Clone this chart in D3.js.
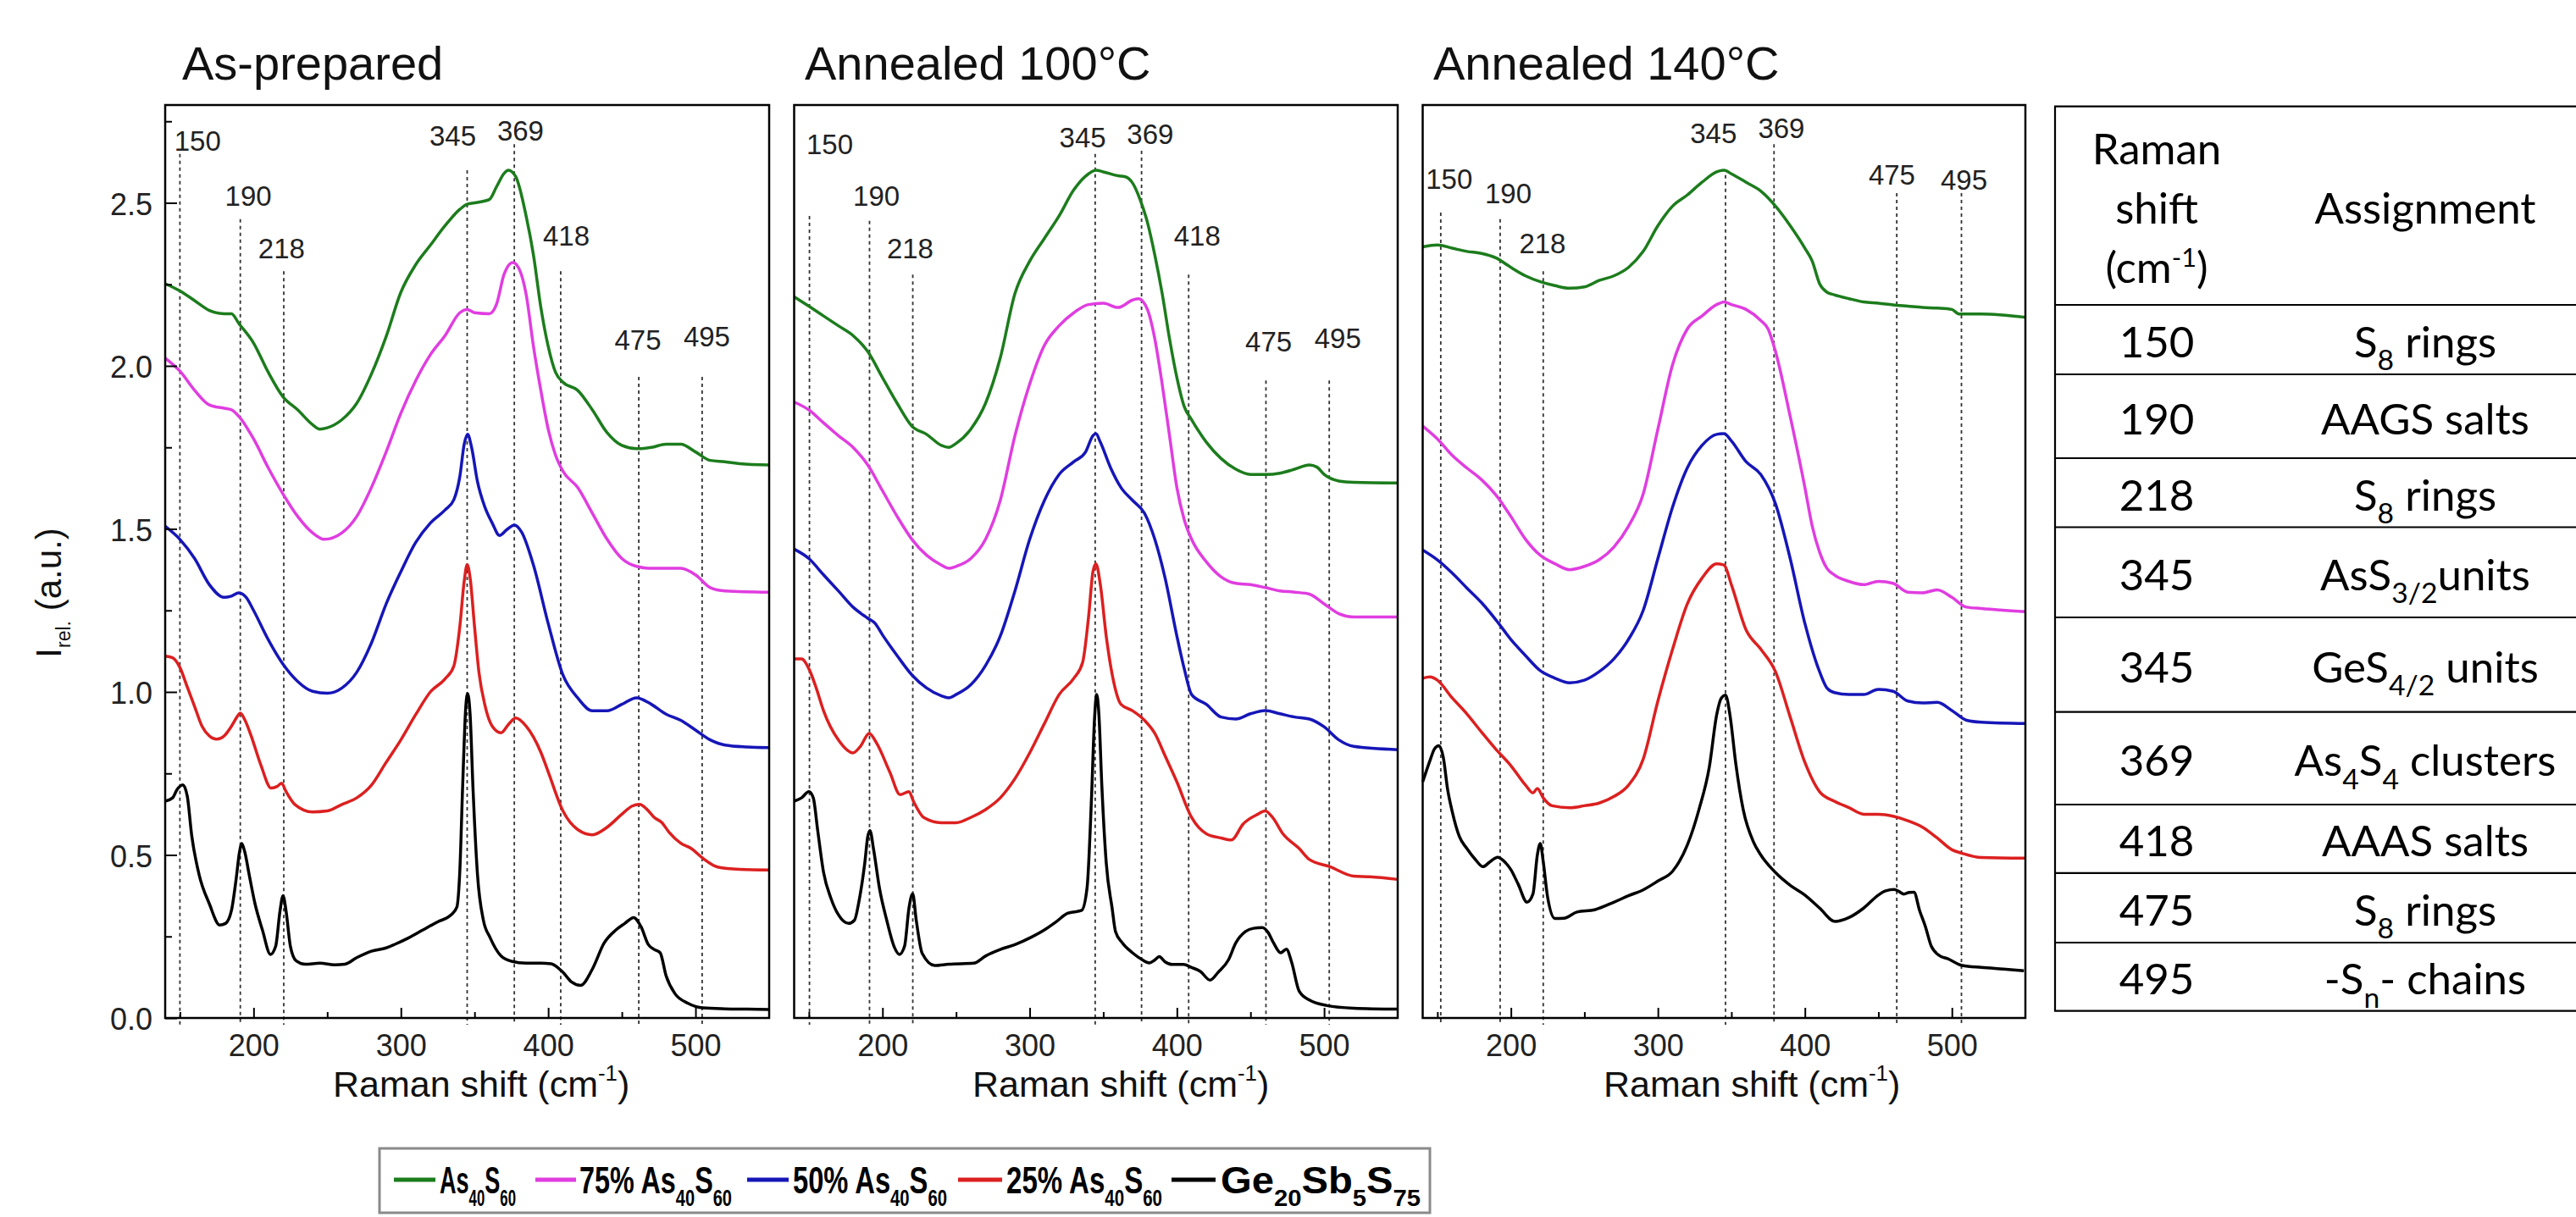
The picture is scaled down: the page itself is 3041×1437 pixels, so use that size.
<!DOCTYPE html>
<html>
<head>
<meta charset="utf-8">
<script src="https://cdn.jsdelivr.net/npm/d3@7"></script>
<style>
  body { margin: 0; background: #fff; }
  svg text { font-family: "Liberation Sans", Arial, sans-serif; }
</style>
</head>
<body>
<div id="chart"></div>
<script>
// Data sumbu
const xMajorTicks = [200, 300, 400, 500];
const xMinorTicks = [150, 250, 350, 450];
const yMajorTicks = [0.0, 0.5, 1.0, 1.5, 2.0, 2.5];
const yMinorTicks = [0.25, 0.75, 1.25, 1.75, 2.25, 2.75];

const panelTitles = ["As-prepared", "Annealed 100°C", "Annealed 140°C"];
const seriesNames = ["As_{40}S_{60}", "75% As_{40}S_{60}", "50% As_{40}S_{60}", "25% As_{40}S_{60}", "Ge_{20}Sb_{5}S_{75}"];
const seriesColors = ["#1c7c1c", "#e03de0", "#1616b8", "#dc2020", "#000000"];

// Garis puncak (posisi pada sumbu x)
const peakLabels = ["150", "190", "218", "345", "369", "418", "475", "495"];
const peakLinesP1 = [150, 191, 220.5, 345, 377, 408.5, 461.5, 504.5];
const peakLinesP2 = [150.4, 191.2, 220.6, 344.5, 376, 408, 460.5, 503.5];
const peakLinesP3 = [152.3, 192.7, 222, 346, 379, null, 462.5, 506.5];

// Panel 1: As-prepared
const p1Green = [[140,2.252],[150,2.23],[160,2.2],[170,2.17],[180,2.16],[185,2.16],[190,2.13],[200,2.07],[210,1.98],[220,1.905],[230,1.865],[240,1.82],[245,1.806],[250,1.81],[260,1.835],[270,1.885],[280,1.975],[290,2.09],[300,2.226],[310,2.31],[320,2.37],[330,2.43],[340,2.48],[345,2.496],[350,2.5],[360,2.51],[365,2.55],[370,2.59],[373,2.6],[378,2.58],[385,2.46],[390,2.34],[395,2.18],[400,2.06],[405,1.98],[410,1.95],[420,1.925],[430,1.865],[440,1.795],[450,1.756],[460,1.746],[470,1.75],[480,1.76],[490,1.76],[500,1.736],[510,1.71],[520,1.706],[530,1.7],[550,1.696]];
const p1Magenta = [[140,2.024],[150,1.984],[160,1.925],[170,1.88],[180,1.87],[185,1.865],[190,1.845],[200,1.776],[210,1.687],[220,1.607],[230,1.538],[240,1.488],[248,1.468],[260,1.488],[270,1.538],[280,1.627],[290,1.736],[300,1.855],[310,1.954],[320,2.034],[330,2.093],[340,2.163],[345,2.173],[350,2.163],[360,2.16],[365,2.19],[370,2.28],[376,2.317],[380,2.3],[385,2.22],[390,2.06],[395,1.925],[400,1.806],[405,1.726],[410,1.677],[420,1.627],[430,1.548],[440,1.468],[450,1.409],[460,1.385],[470,1.379],[480,1.379],[490,1.379],[500,1.359],[510,1.32],[520,1.31],[550,1.306]];
const p1Blue = [[140,1.508],[150,1.468],[160,1.409],[170,1.329],[180,1.29],[185,1.294],[190,1.304],[195,1.29],[200,1.25],[210,1.16],[220,1.085],[230,1.032],[240,1.002],[250,0.996],[260,1.012],[270,1.06],[280,1.15],[290,1.27],[300,1.369],[310,1.458],[320,1.518],[330,1.558],[336,1.59],[340,1.66],[343,1.76],[345.3,1.79],[348,1.75],[352,1.645],[357,1.567],[362,1.518],[367,1.48],[372,1.498],[377,1.512],[382,1.49],[390,1.389],[400,1.21],[410,1.052],[420,0.982],[430,0.942],[440,0.942],[450,0.962],[460,0.982],[470,0.962],[480,0.932],[490,0.913],[500,0.883],[510,0.853],[520,0.837],[535,0.831],[550,0.829]];
const p1Red = [[140,1.11],[145,1.105],[150,1.075],[155,1.015],[160,0.955],[165,0.895],[170,0.865],[175,0.855],[180,0.865],[185,0.895],[189,0.925],[191,0.935],[194,0.915],[198,0.87],[205,0.775],[212,0.705],[216,0.71],[219,0.72],[222,0.695],[228,0.655],[240,0.632],[250,0.635],[260,0.655],[270,0.675],[280,0.714],[290,0.784],[300,0.853],[310,0.93],[320,1.0],[330,1.04],[336,1.08],[340,1.2],[343,1.34],[345,1.39],[347,1.35],[350,1.2],[353,1.06],[357,0.96],[362,0.895],[368,0.875],[373,0.9],[378,0.92],[385,0.895],[395,0.815],[400,0.755],[410,0.635],[420,0.578],[430,0.562],[440,0.585],[450,0.625],[457,0.65],[462,0.655],[467,0.64],[472,0.615],[477,0.6],[482,0.57],[490,0.536],[497,0.52],[505,0.49],[515,0.463],[530,0.456],[550,0.454]];
const p1Black = [[140,0.665],[145,0.675],[148,0.7],[152,0.715],[155,0.68],[158,0.56],[163,0.44],[170,0.35],[177,0.285],[181,0.29],[185,0.33],[188,0.42],[190.5,0.51],[192,0.535],[194,0.51],[197,0.44],[201,0.35],[206,0.27],[211.5,0.195],[215,0.22],[218,0.33],[220,0.375],[222,0.33],[225,0.22],[229,0.175],[235,0.165],[245,0.168],[255,0.163],[262,0.165],[270,0.185],[280,0.205],[290,0.215],[296,0.226],[305,0.245],[315,0.27],[325,0.295],[334,0.316],[338,0.34],[340,0.45],[342,0.72],[344,0.95],[345.3,0.995],[347,0.93],[349,0.7],[352,0.44],[356,0.3],[360.5,0.247],[368,0.19],[375,0.174],[385,0.168],[395,0.168],[402,0.166],[410,0.14],[416,0.11],[422,0.1],[430,0.15],[438,0.23],[446,0.27],[452,0.29],[458,0.308],[463,0.28],[468,0.225],[472,0.21],[476,0.2],[480,0.13],[486,0.075],[495,0.045],[505,0.031],[520,0.028],[535,0.027],[550,0.026]];

// Panel 2: Annealed 100°C
const p2Green = [[140,2.212],[150,2.183],[160,2.153],[170,2.123],[180,2.093],[190,2.044],[200,1.964],[210,1.885],[220,1.815],[230,1.79],[240,1.756],[245,1.75],[250,1.762],[260,1.806],[270,1.885],[280,2.024],[290,2.222],[300,2.321],[310,2.391],[320,2.46],[330,2.54],[340,2.589],[345,2.6],[350,2.595],[360,2.583],[365,2.58],[370,2.56],[375,2.51],[380,2.44],[385,2.34],[390,2.222],[395,2.083],[400,1.964],[405,1.875],[410,1.835],[420,1.766],[430,1.716],[440,1.683],[450,1.667],[460,1.667],[470,1.671],[480,1.683],[490,1.696],[495,1.69],[500,1.667],[510,1.647],[520,1.643],[550,1.641]];
const p2Magenta = [[140,1.889],[150,1.865],[160,1.825],[170,1.786],[180,1.75],[190,1.696],[200,1.617],[210,1.538],[220,1.468],[230,1.419],[240,1.389],[245,1.379],[250,1.385],[260,1.409],[270,1.468],[280,1.587],[290,1.786],[300,1.944],[310,2.063],[320,2.123],[330,2.163],[340,2.188],[350,2.192],[360,2.179],[370,2.202],[374,2.206],[380,2.173],[385,2.083],[390,1.944],[395,1.786],[400,1.627],[405,1.528],[410,1.468],[420,1.399],[430,1.353],[440,1.333],[450,1.329],[460,1.32],[470,1.31],[480,1.306],[490,1.3],[500,1.27],[510,1.24],[520,1.23],[550,1.23]];
const p2Blue = [[140,1.438],[150,1.409],[160,1.359],[170,1.31],[180,1.26],[190,1.226],[195,1.21],[200,1.175],[210,1.111],[220,1.052],[230,1.012],[240,0.988],[245,0.982],[250,0.992],[260,1.022],[270,1.081],[280,1.171],[290,1.31],[300,1.468],[310,1.587],[320,1.667],[330,1.706],[338,1.736],[343,1.786],[345,1.792],[348,1.766],[355,1.687],[362,1.627],[370,1.587],[378,1.548],[385,1.468],[392,1.349],[400,1.171],[405,1.071],[410,0.992],[420,0.962],[430,0.923],[440,0.917],[450,0.933],[460,0.943],[470,0.933],[480,0.923],[490,0.917],[500,0.893],[510,0.853],[520,0.833],[550,0.823]];
const p2Red = [[140,1.101],[145,1.101],[150,1.071],[155,1.012],[160,0.942],[170,0.853],[180,0.813],[185,0.833],[191,0.873],[196,0.843],[205,0.754],[212,0.685],[218,0.694],[221,0.665],[228,0.615],[240,0.599],[250,0.599],[260,0.615],[270,0.639],[280,0.675],[290,0.734],[300,0.813],[310,0.903],[320,0.992],[330,1.042],[336,1.091],[340,1.23],[343,1.369],[345,1.393],[348,1.329],[352,1.171],[357,1.032],[362,0.962],[370,0.942],[378,0.913],[385,0.873],[392,0.804],[400,0.724],[410,0.615],[420,0.565],[430,0.552],[437,0.546],[445,0.595],[455,0.625],[460,0.635],[465,0.615],[472,0.565],[483,0.52],[490,0.486],[504,0.464],[520,0.435],[531,0.433],[550,0.425]];
const p2Black = [[140,0.665],[145,0.675],[150,0.694],[153,0.675],[156,0.575],[160,0.446],[165,0.367],[170,0.317],[177,0.29],[181,0.3],[184,0.357],[188,0.476],[190,0.556],[191.5,0.575],[194,0.516],[198,0.397],[203,0.298],[208,0.218],[211.5,0.195],[215,0.22],[218,0.337],[220.5,0.381],[223,0.298],[227,0.198],[235.5,0.161],[245,0.165],[262,0.168],[270,0.19],[280,0.21],[290,0.225],[300.8,0.247],[310,0.27],[318,0.295],[325.7,0.321],[335.3,0.33],[339,0.4],[342,0.675],[344,0.913],[345.5,0.992],[347,0.933],[349,0.714],[352,0.476],[356,0.337],[358.3,0.265],[363,0.23],[369.8,0.2],[376,0.18],[381.3,0.169],[385,0.178],[388,0.188],[392,0.172],[396.7,0.164],[404.4,0.164],[410,0.155],[415.9,0.143],[422.6,0.116],[428,0.14],[435,0.178],[440,0.23],[446.6,0.265],[452,0.275],[458,0.277],[462,0.262],[465.7,0.23],[470.5,0.2],[474.4,0.211],[478,0.17],[483,0.083],[490,0.055],[502,0.038],[520,0.03],[550,0.027]];

// Panel 3: Annealed 140°C
const p3Green = [[140,2.365],[150,2.371],[160,2.361],[170,2.351],[180,2.345],[190,2.331],[200,2.302],[210,2.276],[220,2.258],[230,2.246],[240,2.238],[250,2.242],[260,2.262],[270,2.276],[280,2.302],[290,2.351],[300,2.43],[310,2.49],[320,2.524],[330,2.563],[340,2.595],[345,2.6],[350,2.589],[360,2.563],[370,2.536],[380,2.49],[390,2.43],[400,2.361],[405,2.321],[410,2.252],[415,2.226],[420,2.218],[430,2.206],[440,2.196],[450,2.192],[460,2.187],[470,2.183],[480,2.179],[490,2.177],[500,2.173],[505,2.159],[510,2.159],[520,2.159],[550,2.149]];
const p3Magenta = [[140,1.815],[150,1.776],[160,1.726],[170,1.687],[180,1.651],[190,1.603],[200,1.538],[210,1.468],[220,1.419],[230,1.393],[240,1.375],[250,1.385],[260,1.405],[270,1.444],[280,1.508],[290,1.607],[300,1.806],[310,2.004],[320,2.113],[330,2.153],[340,2.188],[345,2.196],[350,2.188],[360,2.173],[370,2.139],[375,2.113],[380,2.044],[390,1.845],[400,1.627],[405,1.508],[410,1.429],[415,1.379],[420,1.359],[430,1.339],[440,1.329],[450,1.339],[460,1.333],[470,1.306],[480,1.304],[490,1.313],[500,1.29],[510,1.26],[520,1.256],[550,1.246]];
const p3Blue = [[140,1.435],[150,1.405],[160,1.365],[170,1.319],[180,1.274],[190,1.22],[200,1.161],[210,1.111],[220,1.065],[230,1.042],[240,1.028],[250,1.036],[260,1.062],[270,1.101],[280,1.161],[290,1.25],[300,1.409],[310,1.567],[320,1.687],[330,1.756],[340,1.79],[345,1.792],[350,1.77],[360,1.706],[370,1.667],[380,1.577],[390,1.409],[400,1.21],[410,1.062],[415,1.012],[420,0.998],[430,0.992],[440,0.992],[450,1.008],[460,1.002],[470,0.972],[480,0.966],[490,0.968],[500,0.943],[510,0.913],[520,0.907],[550,0.903]];
const p3Red = [[140,1.042],[145,1.046],[150,1.036],[160,0.982],[170,0.933],[180,0.877],[190,0.823],[200,0.774],[210,0.714],[215,0.69],[218,0.704],[222,0.675],[228,0.651],[240,0.645],[250,0.651],[260,0.659],[270,0.679],[280,0.714],[290,0.794],[300,0.972],[310,1.131],[320,1.27],[330,1.349],[340,1.393],[345,1.389],[350,1.329],[360,1.19],[370,1.131],[380,1.062],[390,0.923],[400,0.784],[410,0.694],[420,0.665],[430,0.645],[440,0.625],[450,0.625],[460,0.619],[470,0.605],[480,0.585],[490,0.552],[500,0.516],[507,0.505],[520,0.492],[550,0.49]];
const p3Black = [[140,0.724],[145,0.79],[148,0.825],[151,0.835],[154,0.8],[157,0.7],[160,0.635],[165,0.556],[170,0.52],[176,0.485],[181,0.464],[186,0.48],[191,0.493],[195,0.482],[200,0.455],[205,0.41],[211,0.355],[215,0.38],[218,0.5],[220,0.535],[222,0.48],[225,0.37],[230,0.305],[236,0.306],[245,0.325],[257,0.332],[270,0.355],[280,0.375],[290,0.393],[300,0.42],[310,0.45],[320,0.53],[328,0.64],[335,0.77],[340,0.93],[343,0.98],[346,0.99],[349,0.93],[353,0.78],[358,0.64],[365,0.54],[370,0.5],[380,0.446],[390,0.407],[400,0.377],[410,0.337],[420.5,0.296],[430,0.308],[440,0.337],[450,0.377],[455,0.39],[460.7,0.394],[464,0.388],[467.3,0.38],[471,0.385],[474.2,0.386],[478,0.33],[482,0.28],[486,0.22],[492,0.19],[497,0.182],[507,0.161],[520,0.155],[535,0.15],[549,0.145]];

// Tabel
const tableShifts = ["150", "190", "218", "345", "345", "369", "418", "475", "495"];
const tableAssign = ["S_{8} rings", "AAGS salts", "S_{8} rings", "AsS_{3/2}units", "GeS_{4/2} units", "As_{4}S_{4} clusters", "AAAS salts", "S_{8} rings", "-S_{n}- chains"];

// Tata letak
const W = 3041, H = 1437;
const plotTop = 124, plotBottom = 1202;
const panels = [
  { left: 195, right: 908, titleX: 215, xLabelX: 393,
    series: [p1Green, p1Magenta, p1Blue, p1Red, p1Black], lines: peakLinesP1,
    // [pusat label x, baseline label (nilai y), ujung atas garis (nilai y)]
    ann: [[162,2.66,2.65],[196.4,2.49,2.45],[219,2.33,2.29],[335.2,2.676,2.6],[381.2,2.69,2.68],[412.3,2.37,2.29],[460.9,2.05,1.966],[507.7,2.06,1.966]] },
  { left: 937.5, right: 1650, titleX: 950, xLabelX: 1148,
    series: [p2Green, p2Magenta, p2Blue, p2Red, p2Black], lines: peakLinesP2,
    ann: [[164.2,2.65,2.46],[195.9,2.49,2.445],[218.8,2.33,2.28],[336,2.67,2.65],[381.9,2.68,2.66],[413.8,2.37,2.28],[462.3,2.045,1.955],[509.3,2.054,1.955]] },
  { left: 1679.5, right: 2391, titleX: 1692, xLabelX: 1893,
    series: [p3Green, p3Magenta, p3Blue, p3Red, p3Black], lines: peakLinesP3,
    ann: [[158,2.544,2.47],[198.2,2.5,2.45],[221.5,2.346,2.29],[337.8,2.684,2.585],[384,2.7,2.68],null,[459.2,2.556,2.53],[508.2,2.54,2.53]] }
];

// Teks dengan subskrip _{..} dan superskrip ^{..}
function rich(textSel, str, size, opt = {}) {
  const subScale = opt.subScale || 0.62, subDy = opt.subDy || 0.3, supDy = opt.supDy || 0.42;
  const parts = str.split(/(_\{[^}]*\}|\^\{[^}]*\})/).filter(s => s.length);
  let shift = 0;
  parts.forEach(p => {
    let t = p, fs = size, target = 0;
    if (p.startsWith("_{")) { t = p.slice(2, -1); fs = size * subScale; target = subDy * size; }
    else if (p.startsWith("^{")) { t = p.slice(2, -1); fs = size * subScale; target = -supDy * size; }
    textSel.append("tspan")
      .attr("dy", target - shift)
      .style("font-size", fs + "px")
      .text(t);
    shift = target;
  });
  return textSel;
}

const svg = d3.select("#chart").append("svg")
  .attr("width", W).attr("height", H);
svg.append("rect").attr("width", W).attr("height", H).attr("fill", "#fff");

const y = d3.scaleLinear().domain([0, 2.8]).range([plotBottom, plotTop]);

panels.forEach((p, i) => {
  const x = d3.scaleLinear().domain([140, 550]).range([p.left, p.right]);
  const g = svg.append("g");

  // Garis puncak putus-putus
  p.lines.forEach((lx, k) => {
    if (lx === null || !p.ann[k]) return;
    g.append("line")
      .attr("x1", x(lx)).attr("x2", x(lx))
      .attr("y1", y(p.ann[k][2])).attr("y2", plotBottom + 8)
      .attr("stroke", "#333").attr("stroke-width", 1.8)
      .attr("stroke-dasharray", "4,4");
    g.append("text")
      .attr("x", x(p.ann[k][0])).attr("y", y(p.ann[k][1]))
      .attr("text-anchor", "middle")
      .style("font-size", "33px").attr("fill", "#222")
      .text(peakLabels[k]);
  });

  // Kurva
  const line = d3.line().x(d => x(d[0])).y(d => y(d[1])).curve(d3.curveMonotoneX);
  p.series.forEach((s, k) => {
    g.append("path").datum(s)
      .attr("d", line)
      .attr("fill", "none")
      .attr("stroke", seriesColors[k])
      .attr("stroke-width", 3.5)
      .attr("stroke-linejoin", "round");
  });

  // Sumbu x
  const xAxis = g.append("g").attr("transform", `translate(0,${plotBottom})`)
    .call(d3.axisBottom(x).tickValues(xMajorTicks).tickSize(-12).tickPadding(19));
  xAxis.selectAll("text").style("font-size", "36px").attr("fill", "#222");
  g.append("g").attr("transform", `translate(0,${plotBottom})`)
    .call(d3.axisBottom(x).tickValues(xMinorTicks).tickSize(-7).tickFormat(""));

  // Sumbu y hanya pada panel pertama
  if (i === 0) {
    const yAxis = g.append("g").attr("transform", `translate(${p.left},0)`)
      .call(d3.axisLeft(y).tickValues(yMajorTicks).tickSize(-14).tickPadding(15).tickFormat(d3.format(".1f")));
    yAxis.selectAll("text").style("font-size", "36px").attr("fill", "#222").attr("dy", "0.38em");
    g.append("g").attr("transform", `translate(${p.left},0)`)
      .call(d3.axisLeft(y).tickValues(yMinorTicks).tickSize(-8).tickFormat(""));
  }
  g.selectAll(".domain").remove();
  g.selectAll(".tick line").attr("stroke", "#000").attr("stroke-width", 2);

  // Bingkai
  g.append("rect")
    .attr("x", p.left).attr("y", plotTop)
    .attr("width", p.right - p.left).attr("height", plotBottom - plotTop)
    .attr("fill", "none").attr("stroke", "#000").attr("stroke-width", 2.5);

  // Judul panel
  g.append("text").attr("x", p.titleX).attr("y", 94)
    .style("font-size", "56px").attr("fill", "#111")
    .text(panelTitles[i]);

  // Label sumbu x
  rich(g.append("text").attr("x", p.xLabelX).attr("y", 1295).attr("fill", "#111"),
    "Raman shift (cm^{-1})", 43, { subScale: 0.6, supDy: 0.45 });
});

// Label sumbu y
rich(svg.append("text")
  .attr("transform", "translate(72,700) rotate(-90)")
  .attr("text-anchor", "middle").attr("fill", "#111"),
  "I_{rel.} (a.u.)", 42, { subScale: 0.55, subDy: 0.25 });

// Legenda
const legendBox = { x: 448, y: 1356, w: 1240, h: 76 };
const legendItems = [
  { x1: 465, x2: 514, tx: 519, tw: 90 },
  { x1: 632, x2: 680, tx: 684, tw: 180 },
  { x1: 882, x2: 931, tx: 936, tw: 182 },
  { x1: 1131, x2: 1183, tx: 1188, tw: 184 },
  { x1: 1383, x2: 1435, tx: 1441, tw: 236 }
];
svg.append("rect")
  .attr("x", legendBox.x).attr("y", legendBox.y)
  .attr("width", legendBox.w).attr("height", legendBox.h)
  .attr("fill", "#fff").attr("stroke", "#8a8a8a").attr("stroke-width", 3);
legendItems.forEach((it, k) => {
  svg.append("line")
    .attr("x1", it.x1).attr("x2", it.x2).attr("y1", 1393).attr("y2", 1393)
    .attr("stroke", seriesColors[k]).attr("stroke-width", 5);
  const t = svg.append("text")
    .style("font-family", '"Liberation Sans Narrow", "Arial Narrow", "Liberation Sans", Arial, sans-serif')
    .style("font-weight", "bold").attr("fill", "#000");
  rich(t, seriesNames[k], 44, { subScale: 0.62, subDy: 0.33 });
  const w = t.node().getBBox().width;
  t.attr("transform", `translate(${it.tx},1409) scale(${it.tw / w},1)`);
});

// Tabel penempatan
const tab = { left: 2426, right: 3041, c1: 2546, c2: 2863 };
const rowEdges = [125.6, 360, 442, 541, 622.5, 729, 840.7, 950, 1030.9, 1113, 1193.7];
const tg = svg.append("g").style("font-family", "Lato, 'Open Sans', sans-serif");
tg.append("line").attr("x1", tab.left).attr("x2", tab.left)
  .attr("y1", rowEdges[0]).attr("y2", rowEdges[rowEdges.length - 1])
  .attr("stroke", "#000").attr("stroke-width", 2.2);
rowEdges.forEach(ry => {
  tg.append("line").attr("x1", tab.left - 1).attr("x2", tab.right)
    .attr("y1", ry).attr("y2", ry)
    .attr("stroke", "#000").attr("stroke-width", 2.2);
});
[["Raman", 193.7], ["shift", 264], ["(cm^{-1})", 334]].forEach(([s, by]) => {
  rich(tg.append("text").attr("x", tab.c1).attr("y", by).attr("text-anchor", "middle")
    .style("font-family", "Lato, 'Open Sans', sans-serif"), s, 51, { subScale: 0.6, supDy: 0.38 });
});
tg.append("text").attr("x", tab.c2).attr("y", 264).attr("text-anchor", "middle")
  .style("font-family", "Lato, 'Open Sans', sans-serif").style("font-size", "51px").text("Assignment");
tableShifts.forEach((s, r) => {
  const cy = (rowEdges[r + 1] + rowEdges[r + 2]) / 2 + 21;
  tg.append("text").attr("x", tab.c1).attr("y", cy).attr("text-anchor", "middle")
    .style("font-family", "Lato, 'Open Sans', sans-serif").style("font-size", "51px").text(s);
  rich(tg.append("text").attr("x", tab.c2).attr("y", cy).attr("text-anchor", "middle")
    .style("font-family", "Lato, 'Open Sans', sans-serif"), tableAssign[r], 51, { subScale: 0.66, subDy: 0.3 });
});
</script>
</body>
</html>
